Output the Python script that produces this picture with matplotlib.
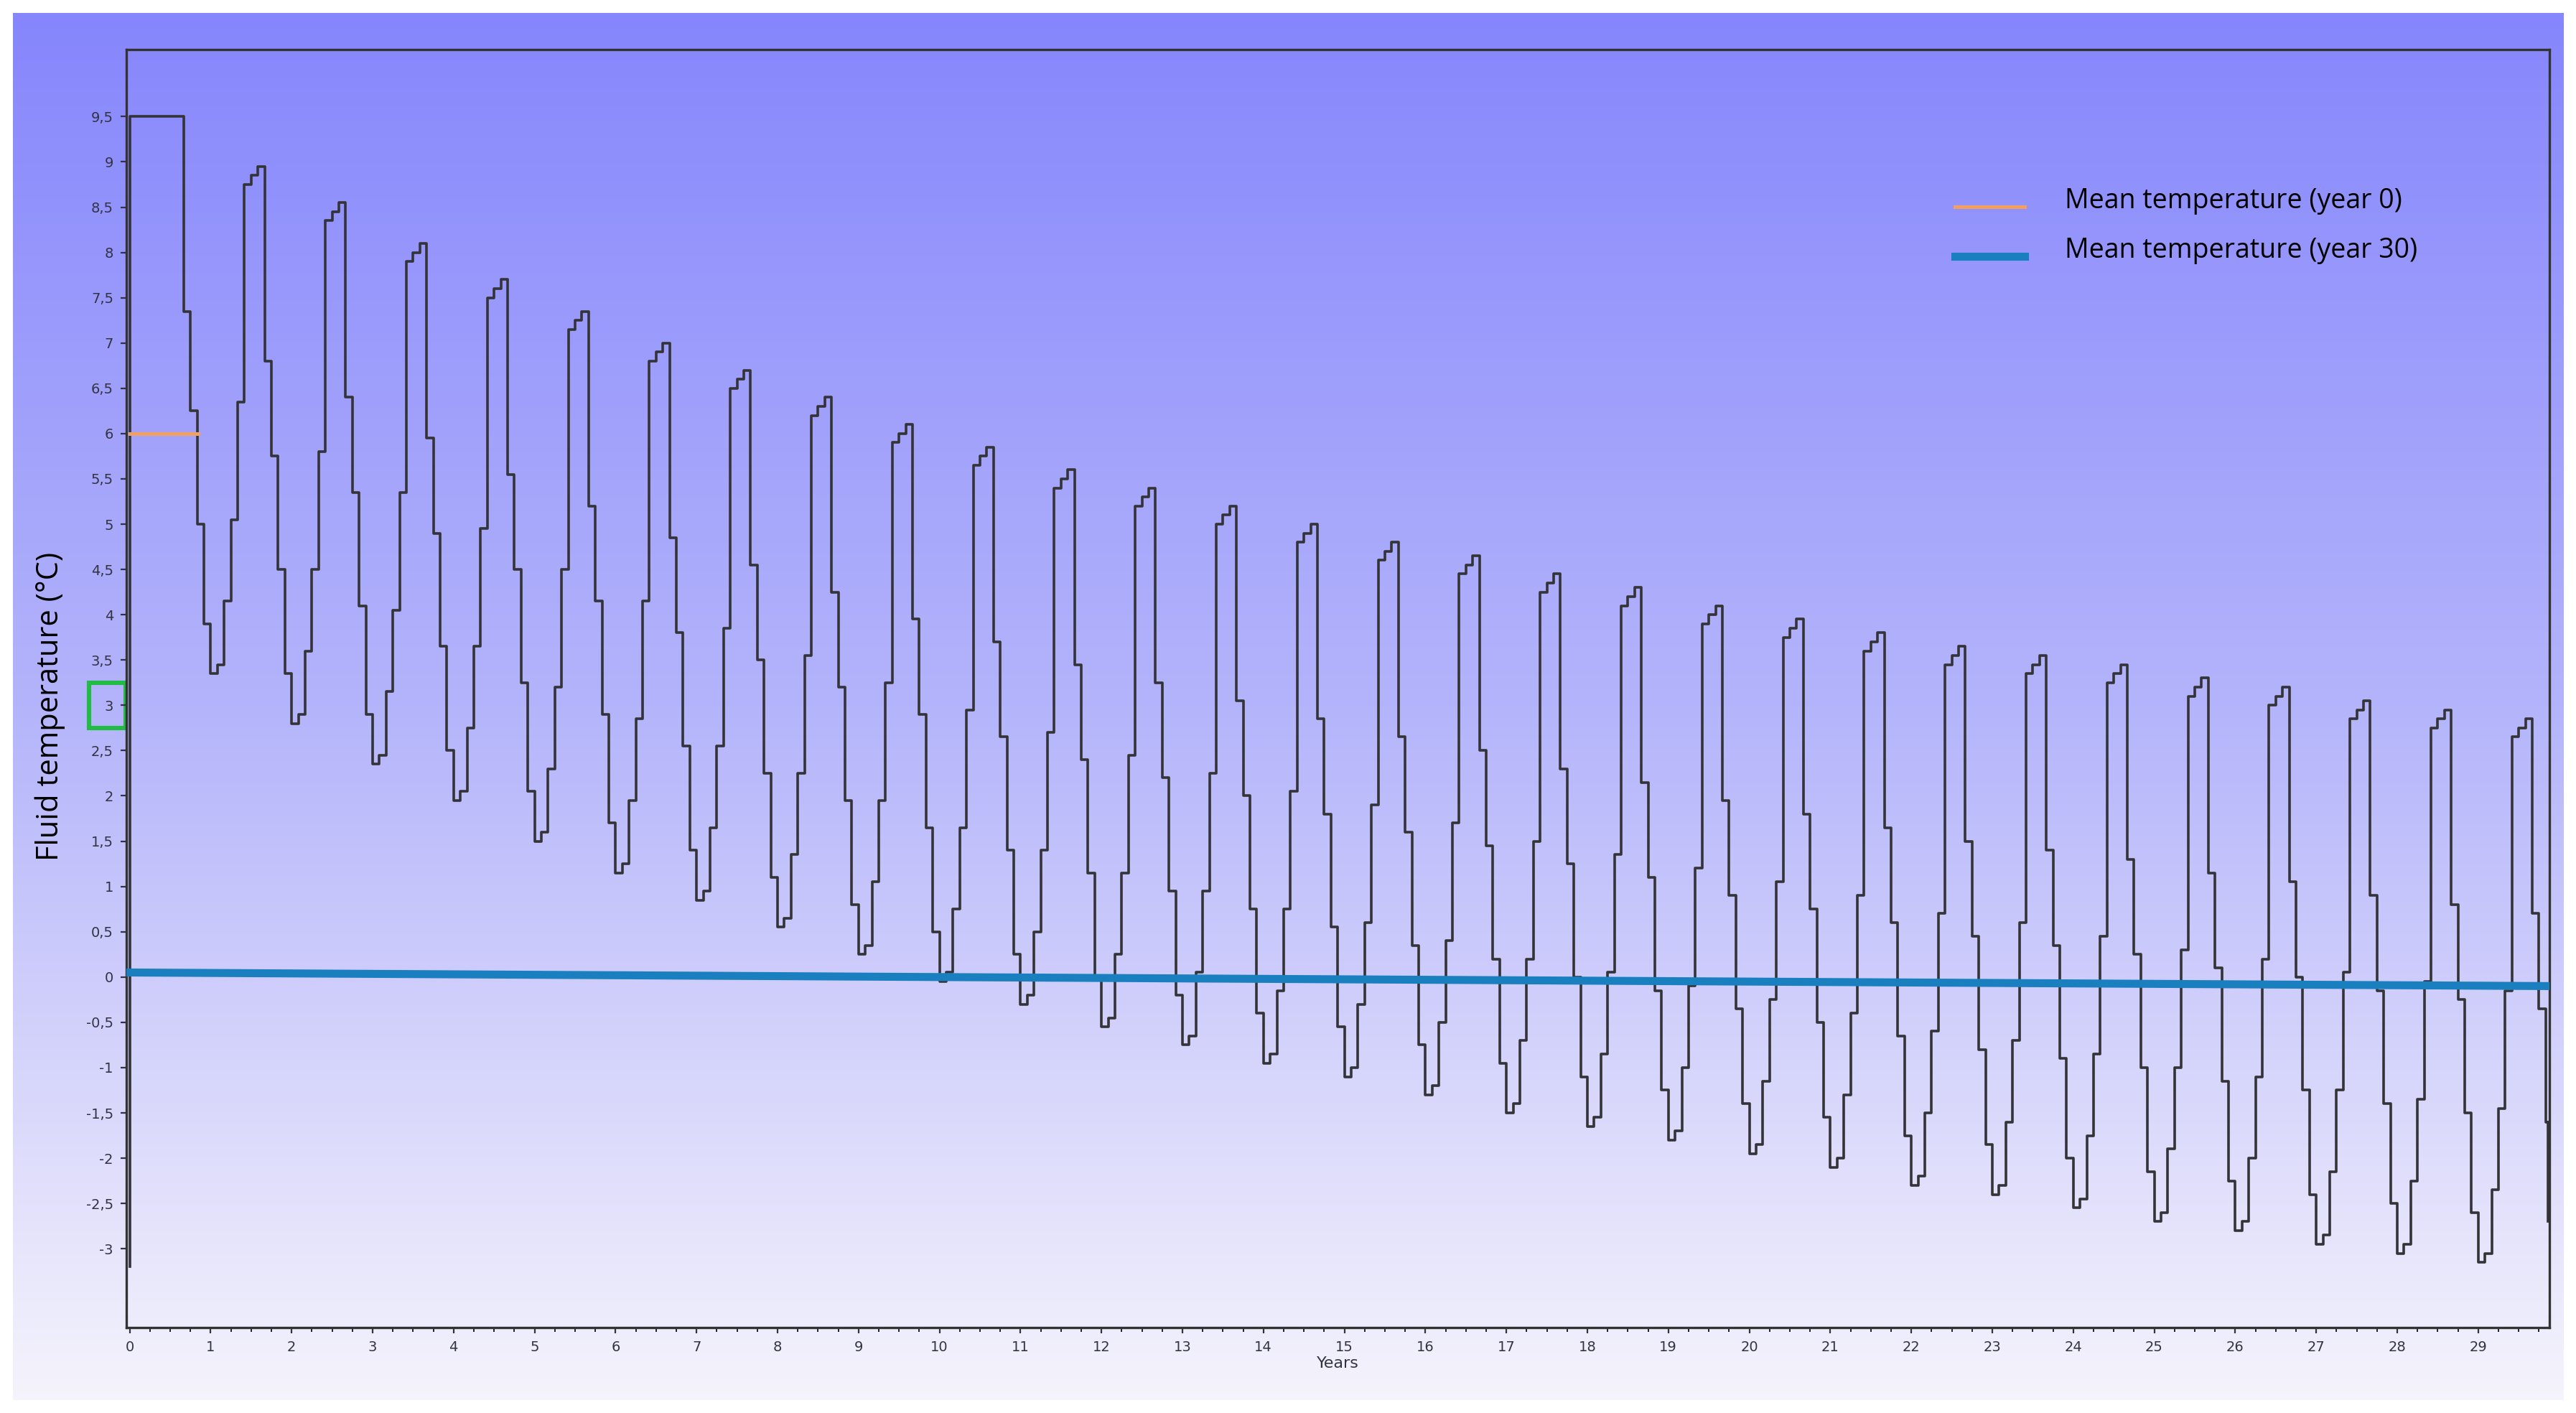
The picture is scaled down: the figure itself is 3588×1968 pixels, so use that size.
import numpy as np
import matplotlib
matplotlib.use("Agg")
import matplotlib.pyplot as plt
from matplotlib.colors import LinearSegmentedColormap

# ---- data ----
years = list(range(1, 30))
peaks = [8.95, 8.55, 8.1, 7.7, 7.35, 7.0, 6.7, 6.4, 6.1, 5.85, 5.6, 5.4, 5.2, 5.0, 4.8,
         4.65, 4.45, 4.3, 4.1, 3.95, 3.8, 3.65, 3.55, 3.45, 3.3, 3.2, 3.05, 2.95, 2.85]
troughs = [3.35, 2.8, 2.35, 1.95, 1.5, 1.15, 0.85, 0.55, 0.25, -0.05, -0.3, -0.55, -0.75,
           -0.95, -1.1, -1.3, -1.5, -1.65, -1.8, -1.95, -2.1, -2.3, -2.4, -2.55, -2.7,
           -2.8, -2.95, -3.05, -3.15]
year0_months = [9.5] * 8 + [7.35, 6.25, 5.0, 3.9]
rise_from_trough = [0.0, 0.1, 0.8, 1.7, 3.0]
near_peak = [-0.2, -0.1, 0.0, -2.15, -3.2, -4.45]
end_value = -2.7
mean0_x = [0.0, 0.85]
mean0_y = [6.0, 6.0]
mean30_x = [0.0, 29.9]
mean30_y = [0.05, -0.1]

vals = list(year0_months)
for i, (p, t) in enumerate(zip(peaks, troughs)):
    m = [t + r for r in rise_from_trough] + [p + r for r in near_peak]
    nxt = troughs[i + 1] + 0.55 if i + 1 < len(troughs) else -1.6
    m.append(nxt)
    vals.extend(m)
x = np.arange(len(vals)) / 12.0
xs = np.concatenate([[0.0], x, [29.86]])
ys = np.concatenate([[-3.2], vals, [end_value]])

W, H, dpi = 3588, 1968, 200
fig = plt.figure(figsize=(W / dpi, H / dpi), dpi=dpi)
fig.patch.set_facecolor("white")

bg = fig.add_axes([18 / W, 18 / H, 1 - 36 / W, 1 - 36 / H])
cmap = LinearSegmentedColormap.from_list("g", ["#8686fd", "#b4b4fb", "#f5f3fc"])
bg.imshow(np.linspace(0, 1, 256).reshape(-1, 1), aspect="auto", cmap=cmap,
          extent=[0, 1, 0, 1])
bg.set_axis_off()

ax = fig.add_axes([176 / W, 1 - 1849 / H, (3551 - 176) / W, (1849 - 69) / H])
ax.patch.set_alpha(0)
ax.step(xs, ys, where="post", color="#333338", lw=1.3, zorder=3)
ax.plot(mean0_x, mean0_y, color="#f0a060", lw=1.8, zorder=4)
ax.plot(mean30_x, mean30_y, color="#1a7fbf", lw=4.0, zorder=4)

ax.set_xlim(-0.04, 29.88)
ax.set_ylim(-3.87, 10.24)
yt = np.arange(-3, 9.51, 0.5)
ax.set_yticks(yt)
ax.set_yticklabels([(f"{v:g}").replace(".", ",") for v in yt])
ax.set_xticks(range(0, 30))
ax.set_xticks(np.arange(0, 29.8, 0.25), minor=True)
ax.tick_params(axis="both", labelsize=7, colors="#334", length=3, width=0.8)
ax.tick_params(axis="x", which="minor", length=2)
for s in ax.spines.values():
    s.set_color("#333")
    s.set_linewidth(1.2)
ax.set_xlabel("Years", fontsize=8, color="#334", labelpad=1)
fig.text(70 / W, 0.5, "Fluid temperature (°C)", rotation=90, va="center", ha="center",
         fontsize=15, family="Open Sans")

ax.add_patch(plt.Rectangle((-0.5, 2.75), 0.45, 0.5, transform=ax.transData,
                           fill=False, ec="#22bb44", lw=2.2, clip_on=False))

fig.lines.append(plt.Line2D([2723 / W, 2820 / W], [1 - 288 / H] * 2, color="#f0a060",
                            lw=1.8, transform=fig.transFigure))
fig.lines.append(plt.Line2D([2723 / W, 2820 / W], [1 - 357 / H] * 2, color="#1a7fbf",
                            lw=4.0, transform=fig.transFigure))
fig.text(2876 / W, 1 - 280 / H, "Mean temperature (year 0)", fontsize=13.5,
         va="center", family="Open Sans")
fig.text(2876 / W, 1 - 349 / H, "Mean temperature (year 30)", fontsize=13.5,
         va="center", family="Open Sans")

fig.savefig("out.png", dpi=dpi)
